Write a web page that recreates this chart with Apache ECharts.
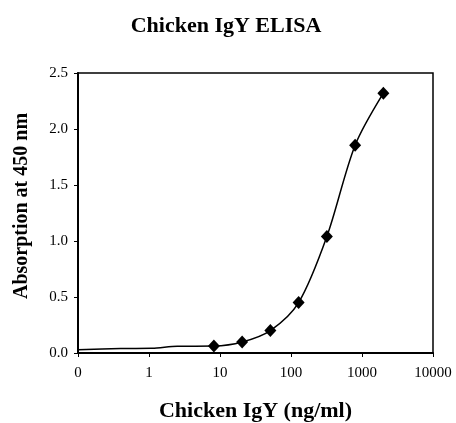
<!DOCTYPE html>
<html>
<head>
<meta charset="utf-8">
<script src="https://cdn.jsdelivr.net/npm/echarts@6/dist/echarts.min.js"></script>
<style>html,body{margin:0;padding:0;background:#fff}#c{width:456px;height:423px}</style>
</head>
<body>
<div id="c"></div>
<script>
// Unmarked leading part of the fitted curve
const leadConc = [0.1, 0.4, 1.1, 2.5];
const leadAbs = [0.028, 0.040, 0.042, 0.060];
// Measured points (diamonds)
const conc = [8.2, 20.5, 51.2, 128, 320, 800, 2000];
const absorb = [0.062, 0.098, 0.20, 0.45, 1.04, 1.855, 2.32];
const xTickLabels = ['0', '1', '10', '100', '1000', '10000'];
const yTickLabels = ['0.0', '0.5', '1.0', '1.5', '2.0', '2.5'];

const font = 'Liberation Serif';
const curve = leadConc.map((x, i) => [x, leadAbs[i]]).concat(conc.map((x, i) => [x, absorb[i]]));
const marks = conc.map((x, i) => [x, absorb[i]]);

const chart = echarts.init(document.getElementById('c'));
chart.setOption({
  animation: false,
  backgroundColor: '#fff',
  title: {
    text: 'Chicken IgY ELISA',
    left: 221, top: 10, textAlign: 'center',
    textStyle: {fontFamily: font, fontSize: 22, fontWeight: 'bold', color: '#000'}
  },
  grid: {left: 78, right: 23, top: 73, bottom: 70, show: true, borderColor: '#000', borderWidth: 1.5,
    backgroundColor: 'transparent', containLabel: false, outerBoundsMode: 'none'},
  xAxis: {
    type: 'log', logBase: 10, min: 0.1, max: 10000,
    name: 'Chicken IgY (ng/ml)', nameLocation: 'middle', nameGap: 47,
    nameTextStyle: {fontFamily: font, fontSize: 22, fontWeight: 'bold', color: '#000'},
    axisLine: {show: true, lineStyle: {color: '#000', width: 2}},
    axisTick: {show: true, length: 4, lineStyle: {color: '#000', width: 1}},
    minorTick: {show: false},
    splitLine: {show: false},
    axisLabel: {fontFamily: font, fontSize: 15, color: '#000', margin: 13,
      formatter: (v, i) => xTickLabels[i] !== undefined ? xTickLabels[i] : ''}
  },
  yAxis: {
    type: 'value', min: 0, max: 2.5, interval: 0.5,
    name: 'Absorption at 450 nm', nameLocation: 'middle', nameGap: 46,
    nameTextStyle: {fontFamily: font, fontSize: 20, fontWeight: 'bold', color: '#000', padding: [0, 0, 0, 14]},
    axisLine: {show: true, lineStyle: {color: '#000', width: 2}},
    axisTick: {show: true, length: 4, lineStyle: {color: '#000', width: 1}},
    splitLine: {show: false},
    axisLabel: {fontFamily: font, fontSize: 15, color: '#000', margin: 10,
      formatter: (v, i) => yTickLabels[i] !== undefined ? yTickLabels[i] : ''}
  },
  series: [
    {
      type: 'line', data: curve, smooth: 0.3, showSymbol: false, symbol: 'none',
      lineStyle: {color: '#000', width: 1.5}, z: 2
    },
    {
      type: 'scatter', data: marks, symbol: 'diamond', symbolSize: [12, 13],
      itemStyle: {color: '#000', opacity: 1}, z: 3
    }
  ]
});
</script>
</body>
</html>
